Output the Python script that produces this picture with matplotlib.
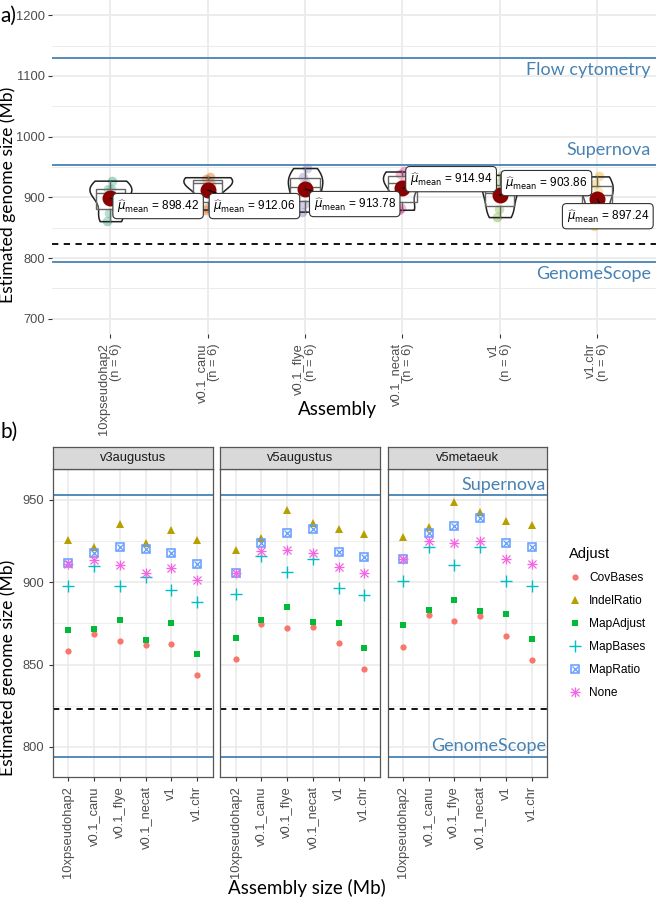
import numpy as np
import matplotlib
matplotlib.use('Agg')
import matplotlib.pyplot as plt
from matplotlib.lines import Line2D
from matplotlib.legend_handler import HandlerTuple

# ---------------- data ----------------
assemblies = ['10xpseudohap2', 'v0.1_canu', 'v0.1_flye', 'v0.1_necat', 'v1', 'v1.chr']
genesets = ['v3augustus', 'v5augustus', 'v5metaeuk']
adjust_methods = ['CovBases', 'IndelRatio', 'MapAdjust', 'MapBases', 'MapRatio', 'None']

v3_covbases   = [858.4, 868.5, 864.2, 861.6, 862.2, 843.6]
v3_indelratio = [925.5, 921.4, 935.0, 924.0, 931.5, 925.5]
v3_mapadjust  = [871.1, 871.3, 877.0, 864.7, 875.0, 856.2]
v3_mapbases   = [897.8, 909.9, 897.8, 902.8, 895.2, 888.0]
v3_mapratio   = [911.3, 917.8, 921.4, 920.0, 917.4, 911.0]
v3_none       = [911.0, 913.3, 910.5, 905.7, 908.3, 901.2]

v5a_covbases   = [853.2, 874.3, 872.3, 872.9, 863.0, 847.3]
v5a_indelratio = [919.4, 926.8, 943.6, 935.6, 932.1, 928.9]
v5a_mapadjust  = [865.9, 877.0, 885.0, 876.0, 875.3, 860.2]
v5a_mapbases   = [892.5, 915.8, 905.9, 914.1, 896.2, 892.1]
v5a_mapratio   = [905.3, 923.8, 929.5, 931.9, 918.4, 915.0]
v5a_none       = [905.3, 918.8, 919.4, 917.4, 909.1, 905.3]

v5m_covbases   = [860.8, 880.0, 876.5, 879.6, 867.5, 852.7]
v5m_indelratio = [927.5, 933.2, 948.3, 942.6, 937.0, 934.5]
v5m_mapadjust  = [873.9, 883.0, 889.3, 882.6, 880.4, 865.5]
v5m_mapbases   = [900.6, 921.4, 910.3, 921.4, 900.8, 897.8]
v5m_mapratio   = [913.7, 929.5, 933.9, 939.0, 923.5, 921.4]
v5m_none       = [913.7, 925.0, 923.5, 924.8, 913.9, 910.9]

mean_values = [898.42, 912.06, 913.78, 914.94, 903.86, 897.24]

flow_cytometry = 1130
supernova = 953
genomescope = 794
dashed_ref = 823

# ---------------- style / layout ----------------
W, H = 657, 900
fig = plt.figure(figsize=(W / 100, H / 100), dpi=100)
TICKFONT = 'Liberation Sans'
TITLEFONT = 'Lato'
BLUE = '#4682B4'
GRID = '#EBEBEB'
TICKCOL = '#4D4D4D'
dark2 = ['#1B9E77', '#D95F02', '#7570B3', '#E7298A', '#66A61E', '#E6AB02']


def px_axes(x0, y0, x1, y1):
    return fig.add_axes([x0 / W, 1 - y1 / H, (x1 - x0) / W, (y1 - y0) / H])


# ================= panel a =================
axA = px_axes(52, 0, 655.5, 334)
axA.set_xlim(-0.6, 5.6)
axA.set_ylim(675, 1225)
for s in axA.spines.values():
    s.set_visible(False)
xpos = np.arange(len(assemblies))
axA.set_yticks([700, 800, 900, 1000, 1100, 1200])
axA.set_yticks([750, 850, 950, 1050, 1150], minor=True)
axA.set_xticks(xpos)
axA.set_xticklabels([f'{a}\n(n = 6)' for a in assemblies], rotation=90,
                    ha='center', va='top', ma='right', fontsize=9.3,
                    family=TICKFONT, color=TICKCOL, linespacing=1.0)
axA.tick_params(axis='y', which='major', labelsize=9.3, labelcolor=TICKCOL,
                length=3, color='#333333', width=0.8, pad=2)
for t in axA.get_yticklabels():
    t.set_family(TICKFONT)
axA.tick_params(axis='x', length=3, color='#333333', width=0.8)
axA.tick_params(axis='y', which='minor', length=0)
axA.grid(True, which='major', color=GRID, lw=1.3, zorder=0)
axA.grid(True, which='minor', axis='y', color=GRID, lw=0.7, zorder=0)
axA.set_axisbelow(True)

groups = [[v5m_covbases[i], v5m_indelratio[i], v5m_mapadjust[i],
           v5m_mapbases[i], v5m_mapratio[i], v5m_none[i]] for i in range(6)]


def nrd0(x):
    x = np.asarray(x, float)
    sd = np.std(x, ddof=1)
    q75, q25 = np.percentile(x, [75, 25])
    lo = min(sd, (q75 - q25) / 1.34)
    if lo <= 0:
        lo = sd
    return 0.9 * lo * len(x) ** -0.2


def kde(x, grid, bw):
    x = np.asarray(x, float)
    return np.exp(-0.5 * ((grid[:, None] - x[None, :]) / bw) ** 2).sum(1) / (len(x) * bw * np.sqrt(2 * np.pi))


dens = []
for g in groups:
    grid = np.linspace(min(g), max(g), 256)
    dens.append((grid, kde(g, grid, nrd0(g))))
gmax = max(d.max() for _, d in dens)

jit = [-0.03, 0.02, -0.01, 0.03, -0.02, 0.01]
for i, g in enumerate(groups):
    axA.scatter(i + np.array(jit), g, s=48, color=dark2[i], alpha=0.4, lw=0, zorder=2)
    grid, d = dens[i]
    hw = 0.25 * d / gmax
    axA.fill_betweenx(grid, i - hw, i + hw, facecolor=(1, 1, 1, 0.2),
                      edgecolor='#222222', lw=1.1, zorder=3)
bp = axA.boxplot(groups, positions=xpos, widths=0.3, showfliers=False,
                 patch_artist=True, manage_ticks=False, showcaps=False, zorder=3.5,
                 boxprops=dict(facecolor=(1, 1, 1, 0.2), edgecolor='#666666', lw=1.0),
                 medianprops=dict(color='#666666', lw=1.0),
                 whiskerprops=dict(color='#666666', lw=1.0))

for y in [flow_cytometry, supernova, genomescope]:
    axA.axhline(y, color=BLUE, lw=1.3, zorder=1.5)
axA.axhline(dashed_ref, color='black', lw=1.3, ls=(0, (3.5, 3)), zorder=1.5)
axA.text(5.55, 1110, 'Flow cytometry', ha='right', va='center', color=BLUE,
         fontsize=13, family=TITLEFONT)
axA.text(5.55, 978, 'Supernova', ha='right', va='center', color=BLUE,
         fontsize=13, family=TITLEFONT)
axA.text(5.55, 774, 'GenomeScope', ha='right', va='center', color=BLUE,
         fontsize=13, family=TITLEFONT)

lab_dx = [0.49, 0.48, 0.51, 0.50, 0.48, 0.11]
lab_y = [885.7, 885.7, 889.0, 930.0, 923.5, 869.0]
for i, m in enumerate(mean_values):
    axA.plot(i, m, 'o', ms=10.5, color='#8B0000', zorder=5)
    axA.annotate(r'$\widehat{\mu}_{\mathrm{mean}}$' + f' = {m:.2f}', xy=(i, m),
                 xytext=(i + lab_dx[i], lab_y[i]), ha='center', va='center',
                 fontsize=8.5, family=TICKFONT, zorder=6,
                 bbox=dict(boxstyle='round,pad=0.35', fc='white', ec='#333333', lw=0.8),
                 arrowprops=dict(arrowstyle='-', color='black', lw=0.8,
                                 shrinkA=0, shrinkB=0))

fig.text(337 / W, 1 - 410 / H, 'Assembly', ha='center', va='center',
         fontsize=13.5, family=TITLEFONT)
fig.text(8 / W, 1 - 195 / H, 'Estimated genome size (Mb)', ha='center', va='center',
         rotation=90, fontsize=12.6, family=TITLEFONT)
fig.text(0 / W, 1 - 16 / H, 'a)', ha='left', va='center', fontsize=15, family=TITLEFONT)

# ================= panel b =================
series = {
    'v3augustus': [v3_covbases, v3_indelratio, v3_mapadjust, v3_mapbases, v3_mapratio, v3_none],
    'v5augustus': [v5a_covbases, v5a_indelratio, v5a_mapadjust, v5a_mapbases, v5a_mapratio, v5a_none],
    'v5metaeuk': [v5m_covbases, v5m_indelratio, v5m_mapadjust, v5m_mapbases, v5m_mapratio, v5m_none],
}
hue = ['#F8766D', '#B79F00', '#00BA38', '#00BFC4', '#619CFF', '#F564E3']

marker_specs = [
    [dict(marker='o', ms=4.5, color=hue[0], mew=0)],
    [dict(marker='^', ms=5.8, color=hue[1], mew=0)],
    [dict(marker='s', ms=4.6, color=hue[2], mew=0)],
    [dict(marker='+', ms=8, color=hue[3], mew=1.0)],
    [dict(marker='s', ms=5.6, mfc='none', mec=hue[4], mew=1.1),
     dict(marker='x', ms=4.0, color=hue[4], mew=0.9)],
    [dict(marker='+', ms=7.5, color=hue[5], mew=0.9),
     dict(marker='x', ms=5.5, color=hue[5], mew=0.9)],
]


def draw_marker(ax, x, y, k):
    for spec in marker_specs[k]:
        ax.plot(x, y, ls='none', zorder=3, **spec)


pw, gap = 159.5, 7.75
for gi, gs in enumerate(genesets):
    x0 = 53 + gi * (pw + gap)
    ax = px_axes(x0, 469.3, x0 + pw, 777)
    ax.set_xlim(-0.6, 5.6)
    ax.set_ylim(781.8, 968.4)
    ax.set_yticks([800, 850, 900, 950])
    ax.set_yticks([825, 875, 925], minor=True)
    ax.set_xticks(xpos)
    ax.set_xticklabels(assemblies, rotation=90, ha='center', va='top', fontsize=9.3,
                       family=TICKFONT, color=TICKCOL)
    ax.tick_params(axis='both', which='major', length=3, color='#333333', width=0.8,
                   labelsize=9.3, labelcolor=TICKCOL)
    ax.tick_params(axis='y', which='minor', length=0)
    if gi > 0:
        ax.tick_params(axis='y', which='major', length=0, labelleft=False)
    for t in ax.get_yticklabels():
        t.set_family(TICKFONT)
    ax.grid(True, which='major', color=GRID, lw=1.2, zorder=0)
    ax.grid(True, which='minor', axis='y', color=GRID, lw=0.6, zorder=0)
    ax.set_axisbelow(True)
    for s in ax.spines.values():
        s.set_color('#555555')
        s.set_linewidth(0.9)
    ax.axhline(supernova, color=BLUE, lw=1.3, zorder=1.5)
    ax.axhline(genomescope, color=BLUE, lw=1.3, zorder=1.5)
    ax.axhline(dashed_ref, color='black', lw=1.3, ls=(0, (3.5, 3)), zorder=1.5)
    for k, vals in enumerate(series[gs]):
        draw_marker(ax, xpos, vals, k)
    if gi == 2:
        ax.text(5.55, 958.8, 'Supernova', ha='right', va='center', color=BLUE,
                fontsize=13, family=TITLEFONT)
        ax.text(5.55, 800.9, 'GenomeScope', ha='right', va='center', color=BLUE,
                fontsize=13, family=TITLEFONT)
    # strip
    st = px_axes(x0, 446.7, x0 + pw, 469.3)
    st.set_facecolor('#D9D9D9')
    st.set_xticks([]); st.set_yticks([])
    for s in st.spines.values():
        s.set_color('#555555')
        s.set_linewidth(0.9)
    st.text(0.5, 0.5, gs, ha='center', va='center', fontsize=9.3, family=TICKFONT,
            color='#1A1A1A', transform=st.transAxes)

fig.text(307 / W, 1 - 888 / H, 'Assembly size (Mb)', ha='center', va='center',
         fontsize=13.5, family=TITLEFONT)
fig.text(8 / W, 1 - 668 / H, 'Estimated genome size (Mb)', ha='center', va='center',
         rotation=90, fontsize=12.6, family=TITLEFONT)
fig.text(0 / W, 1 - 432 / H, 'b)', ha='left', va='center', fontsize=15, family=TITLEFONT)

# legend
handles = []
for specs in marker_specs:
    hs = tuple(Line2D([], [], ls='none', **sp) for sp in specs)
    handles.append(hs if len(hs) > 1 else hs[0])
leg = fig.legend(handles, adjust_methods, title='Adjust', loc='upper left',
                 bbox_to_anchor=(569 / W, 1 - 547 / H), frameon=False,
                 handler_map={tuple: HandlerTuple(ndivide=1)},
                 prop={'family': TICKFONT, 'size': 8.6}, handlelength=1.0,
                 handletextpad=0.7, labelspacing=0.92, borderpad=0, borderaxespad=0)
leg.get_title().set_fontsize(10.5)
leg.get_title().set_family(TICKFONT)
leg._legend_box.align = 'left'

fig.savefig('out.png', dpi=100)
